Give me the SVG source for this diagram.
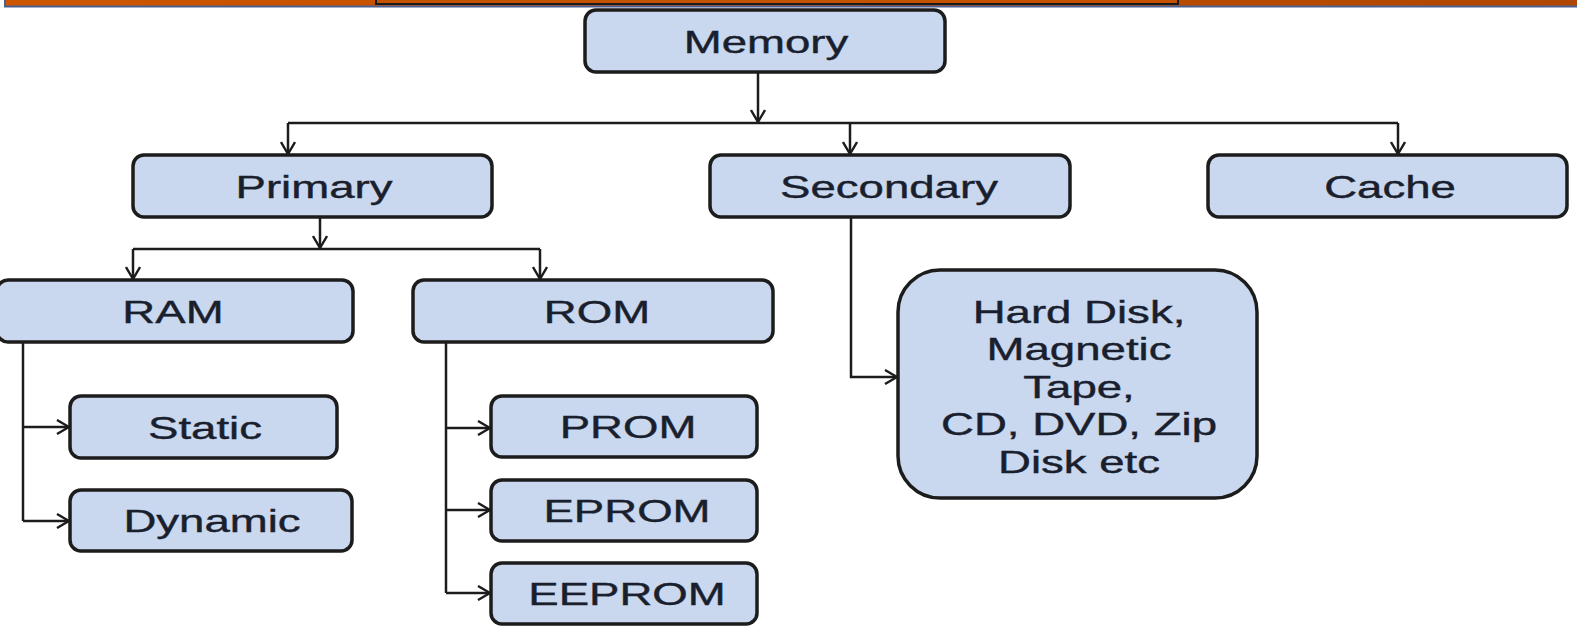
<svg xmlns="http://www.w3.org/2000/svg" width="1577" height="631" viewBox="0 0 1577 631">
<defs>
<linearGradient id="bar" x1="0" y1="0" x2="1" y2="0">
<stop offset="0" stop-color="#cd5600"/>
<stop offset="1" stop-color="#b04700"/>
</linearGradient>
<marker id="arr" viewBox="0 0 14 16" refX="13" refY="8" markerWidth="14" markerHeight="16" markerUnits="userSpaceOnUse" orient="auto">
<path d="M1,1 L13,8 L1,15" fill="none" stroke="#1c1c1c" stroke-width="2.4"/>
</marker>
<style>
.box{fill:#c9d7ef;stroke:#1c1c1c;stroke-width:3.5}
.lbl{font-family:"Liberation Sans",Arial,sans-serif;font-size:31px;fill:#1a1f2e;text-anchor:middle;stroke:#1a1f2e;stroke-width:0.4}
.con{fill:none;stroke:#1c1c1c;stroke-width:2.5}
</style>
</defs>
<rect x="0" y="0" width="1577" height="631" fill="#ffffff"/>
<g id="topbar">
<rect x="4" y="0" width="1573" height="7.5" fill="#4d5f8f"/>
<rect x="6" y="0" width="1571" height="5.5" fill="url(#bar)"/>
<rect x="376" y="-2" width="802" height="6" fill="#c45200" stroke="#1a1a1a" stroke-width="2"/>
</g>
<g id="connectors">
<path class="con" d="M758,72 V122" marker-end="url(#arr)"/>
<path class="con" d="M288,123 H1398"/>
<path class="con" d="M288,123 V154" marker-end="url(#arr)"/>
<path class="con" d="M850,123 V154" marker-end="url(#arr)"/>
<path class="con" d="M1398,123 V154" marker-end="url(#arr)"/>
<path class="con" d="M320,217 V248" marker-end="url(#arr)"/>
<path class="con" d="M133,249 H540"/>
<path class="con" d="M133,249 V279" marker-end="url(#arr)"/>
<path class="con" d="M540,249 V279" marker-end="url(#arr)"/>
<path class="con" d="M23,342 V521"/>
<path class="con" d="M23,427 H69" marker-end="url(#arr)"/>
<path class="con" d="M23,521 H69" marker-end="url(#arr)"/>
<path class="con" d="M446,342 V593"/>
<path class="con" d="M446,428 H490" marker-end="url(#arr)"/>
<path class="con" d="M446,510 H490" marker-end="url(#arr)"/>
<path class="con" d="M446,593 H490" marker-end="url(#arr)"/>
<path class="con" d="M851,217 V377 H897" marker-end="url(#arr)"/>
</g>
<g id="memory">
<rect class="box" x="585" y="10" width="360" height="62" rx="11"/>
<text class="lbl" transform="translate(766,52.5) scale(1.47,1)">Memory</text>
</g>
<g id="primary">
<rect class="box" x="133" y="155" width="359" height="62" rx="11"/>
<text class="lbl" transform="translate(314,197.5) scale(1.47,1)">Primary</text>
</g>
<g id="secondary">
<rect class="box" x="710" y="155" width="360" height="62" rx="11"/>
<text class="lbl" transform="translate(889,197.5) scale(1.47,1)">Secondary</text>
</g>
<g id="cache">
<rect class="box" x="1208" y="155" width="359" height="62" rx="11"/>
<text class="lbl" transform="translate(1390,197.5) scale(1.47,1)">Cache</text>
</g>
<g id="ram">
<rect class="box" x="-3" y="280" width="356" height="62" rx="11"/>
<text class="lbl" transform="translate(173,322.5) scale(1.47,1)">RAM</text>
</g>
<g id="rom">
<rect class="box" x="413" y="280" width="360" height="62" rx="11"/>
<text class="lbl" transform="translate(597,322.5) scale(1.47,1)">ROM</text>
</g>
<g id="static">
<rect class="box" x="70" y="396" width="267" height="62" rx="11"/>
<text class="lbl" transform="translate(205,438.5) scale(1.47,1)">Static</text>
</g>
<g id="dynamic">
<rect class="box" x="70" y="490" width="282" height="61" rx="11"/>
<text class="lbl" transform="translate(212,531.5) scale(1.47,1)">Dynamic</text>
</g>
<g id="prom">
<rect class="box" x="491" y="396" width="266" height="61" rx="11"/>
<text class="lbl" transform="translate(628,438) scale(1.47,1)">PROM</text>
</g>
<g id="eprom">
<rect class="box" x="491" y="480" width="266" height="61" rx="11"/>
<text class="lbl" transform="translate(627,521.5) scale(1.47,1)">EPROM</text>
</g>
<g id="eeprom">
<rect class="box" x="491" y="563" width="266" height="61" rx="11"/>
<text class="lbl" transform="translate(627,604.5) scale(1.47,1)">EEPROM</text>
</g>
<g id="storage">
<rect class="box" x="898" y="270" width="359" height="228" rx="42"/>
<text class="lbl" transform="translate(1079,322.5) scale(1.47,1)">Hard Disk,</text>
<text class="lbl" transform="translate(1079,360) scale(1.47,1)">Magnetic</text>
<text class="lbl" transform="translate(1079,397.5) scale(1.47,1)">Tape,</text>
<text class="lbl" transform="translate(1079,435) scale(1.47,1)">CD, DVD, Zip</text>
<text class="lbl" transform="translate(1079,472.5) scale(1.47,1)">Disk etc</text>
</g>
</svg>
